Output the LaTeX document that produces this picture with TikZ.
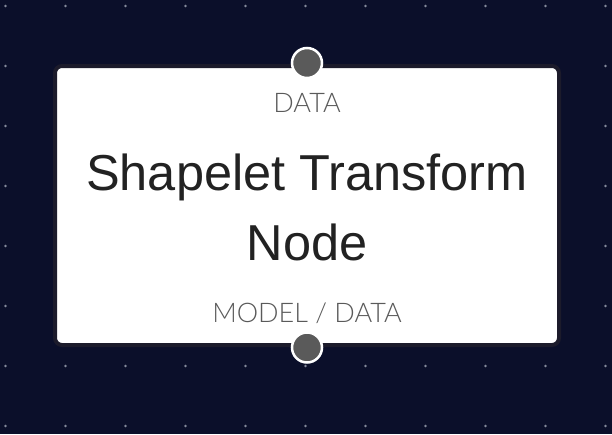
\documentclass[tikz,border=0pt]{standalone}
\usepackage{fontspec}
\setmainfont{Liberation Sans}
\newfontfamily\portfont{Lato}[UprightFont={* Light}]

\definecolor{canvas}{HTML}{0B0F2A}
\definecolor{griddot}{HTML}{868B9C}
\definecolor{frame}{HTML}{1C1B2B}
\definecolor{port}{HTML}{5A5A5A}
\definecolor{title}{HTML}{222222}
\definecolor{portlabel}{HTML}{5A5A5A}

\begin{document}
\begin{tikzpicture}[x=1pt, y=-1pt,
    nodebox/.style={rectangle, rounded corners=7pt, fill=white, draw=frame, line width=4pt,
      minimum width=504pt, minimum height=279pt, outer sep=0pt},
    portdot/.style={circle, fill=port, draw=white, line width=2.5pt, minimum size=30pt,
      inner sep=0pt, outer sep=0pt},
    portname/.style={anchor=base, text=portlabel, font=\portfont\fontsize{27}{32}\selectfont},
    nodename/.style={anchor=base, text=title, font=\fontsize{50.5}{60}\selectfont}]
    \fill[canvas] (0,0) rectangle (612,434);
    \useasboundingbox (0,0) rectangle (612,434);

    \foreach \i in {0,...,10}
      \foreach \j in {0,...,7}
        \fill[griddot] (5.5+60*\i, 6+60*\j) circle (1.4pt);

    \node[nodebox] (box) at (307,205.5) {};

    \node[portdot, yshift=3pt] (in) at (box.north) {};
    \node[portdot, yshift=-2.5pt] (out) at (box.south) {};

    \node[portname] (inlabel) at (307,112) {DATA};
    \node[nodename] (name1) at (307,190) {Shapelet Transform};
    \node[nodename] (name2) at (307,260) {Node};
    \node[portname] (outlabel) at (307,322) {MODEL / DATA};
\end{tikzpicture}
\end{document}
